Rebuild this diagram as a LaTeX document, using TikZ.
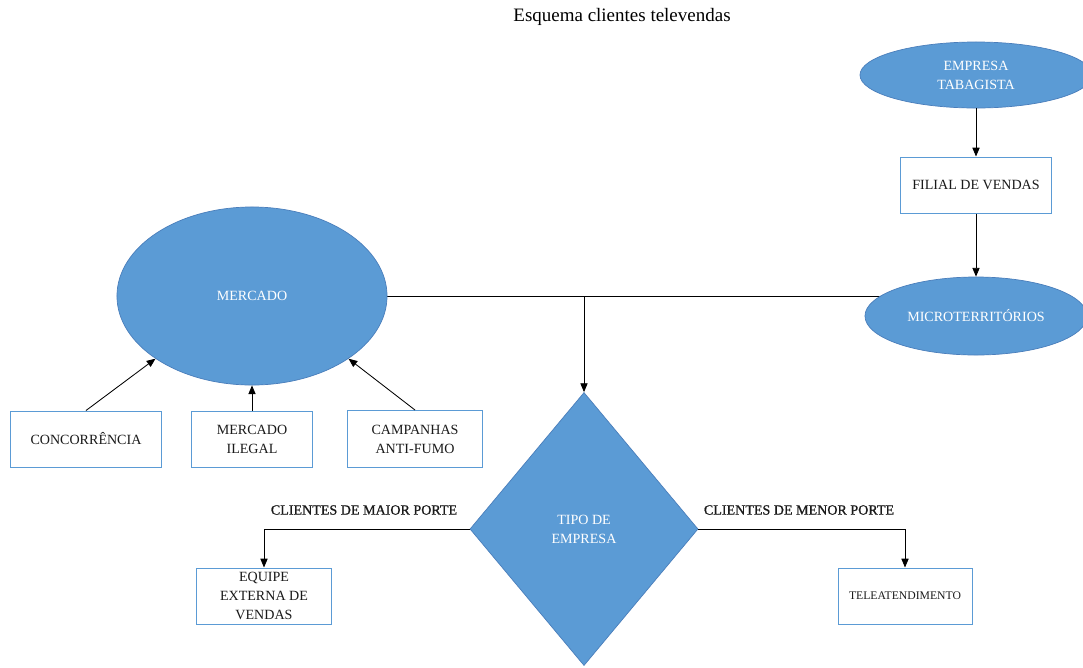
\documentclass[tikz,border=0pt]{standalone}
\usepackage{fontspec}
\setmainfont{Liberation Serif}
\newfontfamily\portefont[FakeBold=1]{Liberation Serif}
\usetikzlibrary{shapes.geometric,arrows.meta,backgrounds}
\definecolor{officeblue}{HTML}{5B9BD5}
\definecolor{officeline}{HTML}{4A7EBB}
\definecolor{boxtext}{HTML}{1A1A1A}
\begin{document}
\begin{tikzpicture}[x=0.025cm,y=-0.025cm,
		oval/.style={ellipse,fill=officeblue,draw=officeline,line width=0.5pt,text=white,align=center,inner sep=0pt,font=\fontsize{10}{13.5}\selectfont},
		losango/.style={diamond,fill=officeblue,draw=officeline,line width=0.5pt,text=white,align=center,inner sep=0pt,font=\fontsize{10}{13.5}\selectfont},
		caixa/.style={rectangle,draw=officeblue,line width=0.7pt,fill=white,text=boxtext,align=center,inner sep=0pt,font=\fontsize{10}{13.5}\selectfont},
		seta/.style={-{Triangle[length=2.2mm,width=1.8mm]},line width=0.6pt},
		porte/.style={text=boxtext,font=\portefont\fontsize{10}{12}\selectfont}]
			\useasboundingbox (0,0) rectangle (1083,667);
			\node[font=\fontsize{13.5}{16}\selectfont] (titulo) at (622,17) {Esquema clientes televendas};
			\node[oval,minimum width=5.8cm,minimum height=1.65cm] (empresa) at (976,75) {EMPRESA\\TABAGISTA};
			\node[caixa,minimum width=3.775cm,minimum height=1.4cm] (filial) at (976,185) {FILIAL DE VENDAS};
			\node[oval,minimum width=5.55cm,minimum height=1.95cm] (micro) at (976,316) {MICROTERRITÓRIOS};
			\node[oval,minimum width=6.75cm,minimum height=4.45cm] (mercado) at (252,296) {MERCADO};
			\node[caixa,minimum width=3.75cm,minimum height=1.4cm] (concorrencia) at (86,439) {CONCORRÊNCIA};
			\node[caixa,minimum width=3cm,minimum height=1.4cm] (ilegal) at (252,439) {MERCADO\\ILEGAL};
			\node[caixa,minimum width=3.375cm,minimum height=1.425cm] (campanhas) at (415,439) {CAMPANHAS\\ANTI-FUMO};
			\node[losango,minimum width=5.7cm,minimum height=6.825cm] (tipo) at (584,529) {TIPO DE\\EMPRESA};
			\node[caixa,minimum width=3.375cm,minimum height=1.4cm] (equipe) at (264,596) {EQUIPE\\EXTERNA DE\\VENDAS};
			\node[caixa,minimum width=3.35cm,minimum height=1.4cm,font=\fontsize{8.3}{10}\selectfont] (tele) at (905,596) {TELEATENDIMENTO};
			\node[porte] (maior) at (364,510) {CLIENTES DE MAIOR PORTE};
			\node[porte] (menor) at (799,510) {CLIENTES DE MENOR PORTE};
			\begin{scope}[on background layer]
				\draw[line width=0.6pt] (mercado.east) -- (micro.center |- mercado.east);
			\end{scope}
			\draw[seta] (empresa) -- (filial);
			\draw[seta] (filial) -- (micro);
			\draw[seta] (mercado.east -| tipo.north) -- (tipo.north);
			\draw[seta] (concorrencia.north) -- (mercado.213);
			\draw[seta] (ilegal.north) -- (mercado.south);
			\draw[seta] (campanhas.north) -- (mercado.327);
			\draw[seta] (tipo.west) -| (equipe.north);
			\draw[seta] (tipo.east) -| (tele.north);
		\end{tikzpicture}
\end{document}
